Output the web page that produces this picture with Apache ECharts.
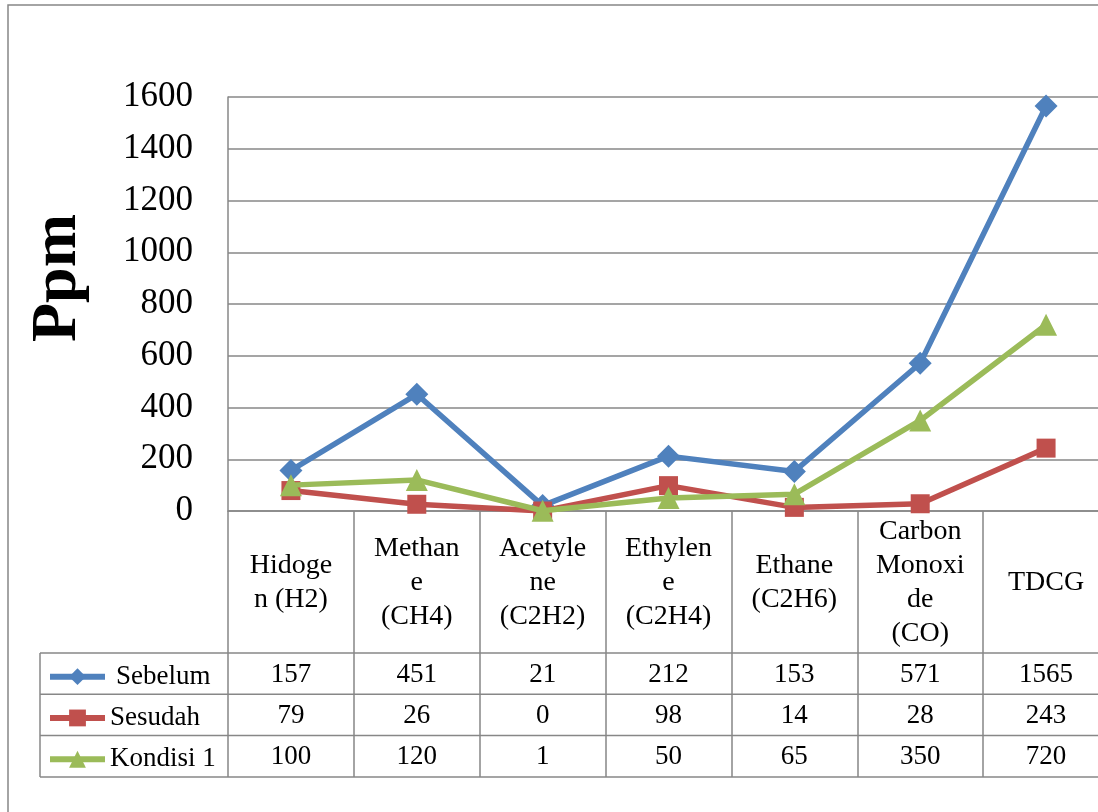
<!DOCTYPE html>
<html>
<head>
<meta charset="utf-8">
<title>Ppm</title>
<script src="https://cdn.jsdelivr.net/npm/echarts@6/dist/echarts.min.js"></script>
<style>
  html, body { margin: 0; padding: 0; background: #fff; overflow: hidden; }
  #chart { width: 1130px; height: 812px; }
</style>
</head>
<body>
<div id="chart"></div>
<script>
// Gas categories (line breaks as shown in the data table header)
const categories = [
  'Hidoge\nn (H2)',
  'Methan\ne\n(CH4)',
  'Acetyle\nne\n(C2H2)',
  'Ethylen\ne\n(C2H4)',
  'Ethane\n(C2H6)',
  'Carbon\nMonoxi\nde\n(CO)',
  'TDCG'
];

// Series values (ppm)
const sebelum  = [157, 451, 21, 212, 153, 571, 1565];
const sesudah  = [79, 26, 0, 98, 14, 28, 243];
const kondisi1 = [100, 120, 1, 50, 65, 350, 720];

const seriesNames = ['Sebelum', 'Sesudah', 'Kondisi 1'];
const seriesData = [sebelum, sesudah, kondisi1];

// Value axis range
const yMin = 0, yMax = 1600, yStep = 200;

// Layout
const W = 1130, H = 812;
const gridLeft = 228, gridTop = 97, plotBottom = 511, plotRight = 1109;
const headerH = 142, rowH = 41.3;
const tableLeft = 40;
const lineGray = '#878787';
const serif = '"Liberation Serif", "Times New Roman", serif';

const colors = ['#4F81BD', '#C0504D', '#9BBB59'];
const symbols = ['diamond', 'rect', 'triangle'];
const symbolSizes = [23, 19, 22];

const tableTop = plotBottom + headerH;
const tableBottom = tableTop + rowH * 3;

// Category axis draws the header labels and the column separators
const xAxes = [{
  type: 'category',
  data: categories,
  boundaryGap: true,
  axisLine: { show: true, lineStyle: { color: lineGray, width: 1.5 } },
  axisTick: { show: true, interval: 0, inside: false, length: tableBottom - plotBottom,
              lineStyle: { color: lineGray, width: 1.5 } },
  axisLabel: { interval: 0, margin: headerH / 2 + 1, verticalAlign: 'middle',
               fontFamily: serif, fontSize: 28, lineHeight: 34, color: '#000' },
  splitLine: { show: false }
}];

// One hidden axis per table row to print its values under each category
seriesData.forEach((vals, i) => {
  xAxes.push({
    type: 'category',
    data: vals.map(String),
    position: 'bottom',
    boundaryGap: true,
    axisLine: { show: false },
    axisTick: { show: false },
    axisLabel: { interval: 0, margin: headerH + rowH * (i + 0.5) + 1, verticalAlign: 'middle',
                 fontFamily: serif, fontSize: 27, color: '#000' },
    splitLine: { show: false }
  });
});

// Legend keys, one in each table row
const legends = seriesNames.map((name, i) => ({
  data: [name],
  left: tableLeft + 7,
  top: tableTop + rowH * (i + 0.5) - 10.5,
  padding: 0,
  itemWidth: 55,
  itemHeight: 21,
  selectedMode: false,
  lineStyle: { width: 6 },
  textStyle: { fontFamily: serif, fontSize: 27, lineHeight: 21, color: '#000',
               padding: i === 0 ? [0, 0, 0, 6] : 0 }
}));

// Table rules that sit outside the plotting grid
const graphics = [
  { type: 'rect', shape: { x: 8, y: 5, width: 1400, height: 1000 },
    style: { fill: 'none', stroke: lineGray, lineWidth: 1.5 }, silent: true },
  { type: 'line', shape: { x1: tableLeft, y1: tableTop, x2: tableLeft, y2: tableBottom },
    style: { stroke: lineGray, lineWidth: 1.5 }, silent: true }
];
for (let r = 0; r <= 3; r++) {
  const y = tableTop + rowH * r;
  graphics.push({ type: 'line', shape: { x1: tableLeft, y1: y, x2: plotRight, y2: y },
                  style: { stroke: lineGray, lineWidth: 1.5 }, silent: true });
}

const chart = echarts.init(document.getElementById('chart'), null, { renderer: 'canvas' });
chart.setOption({
  animation: false,
  backgroundColor: '#fff',
  color: colors,
  legend: legends,
  grid: { left: gridLeft, top: gridTop, right: W - plotRight, bottom: H - plotBottom, containLabel: false },
  xAxis: xAxes,
  yAxis: {
    type: 'value',
    min: yMin, max: yMax, interval: yStep,
    name: 'Ppm',
    nameLocation: 'middle',
    nameRotate: 90,
    nameGap: 170,
    nameTextStyle: { fontFamily: serif, fontSize: 64, fontWeight: 'bold', color: '#000',
                     verticalAlign: 'middle', align: 'center', padding: [0, 0, 0, 52] },
    axisLine: { show: true, lineStyle: { color: lineGray, width: 1.5 } },
    axisTick: { show: false },
    axisLabel: { margin: 35, fontFamily: serif, fontSize: 35, color: '#000',
                 formatter: v => String(v) },
    splitLine: { show: true, lineStyle: { color: lineGray, width: 1.5 } }
  },
  graphic: graphics,
  series: seriesData.map((vals, i) => ({
    name: seriesNames[i],
    type: 'line',
    xAxisIndex: 0,
    data: vals,
    symbol: symbols[i],
    symbolSize: symbolSizes[i],
    showAllSymbol: true,
    lineStyle: { width: 5.5, color: colors[i] },
    itemStyle: { color: colors[i] },
    z: 2 + i
  }))
});
</script>
</body>
</html>
